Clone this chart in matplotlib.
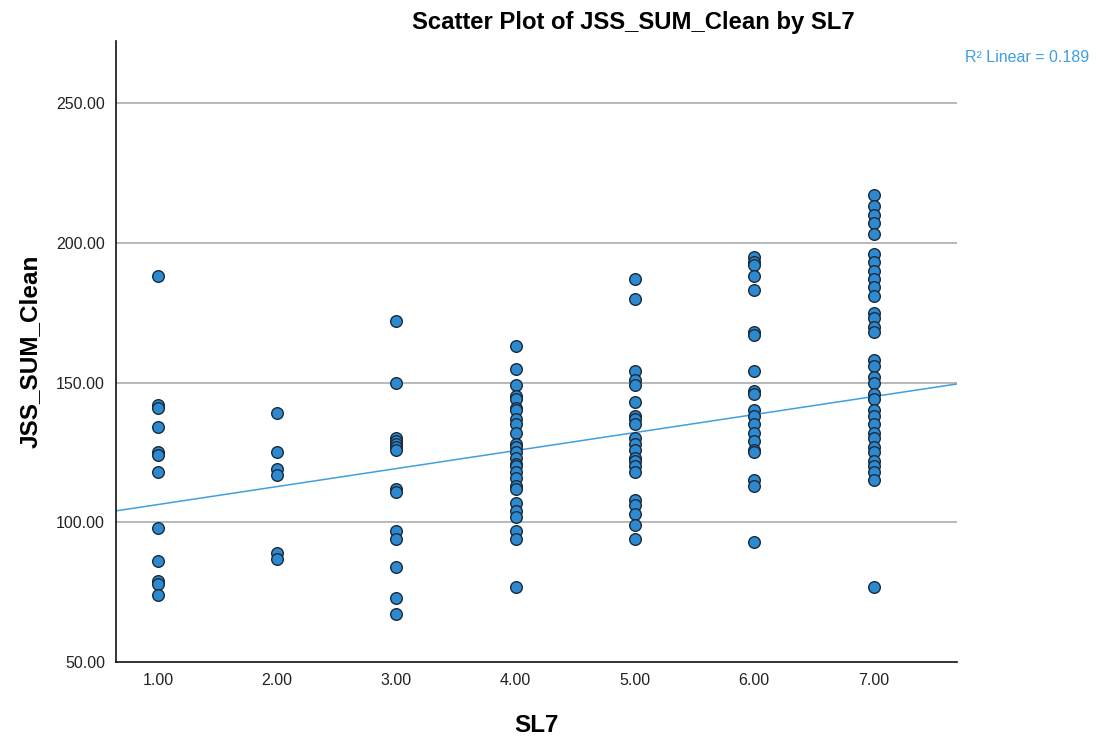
import numpy as np
import matplotlib
matplotlib.use("Agg")
import matplotlib.pyplot as plt

plt.rcParams['font.family'] = ['Liberation Sans', 'DejaVu Sans']

# Data: JSS_SUM_Clean values for each SL7 level
sl7_1 = [188, 142, 141, 134, 125, 124, 118, 98, 86, 79, 78, 74]
sl7_2 = [139, 125, 119, 117, 89, 87]
sl7_3 = [172, 150, 130, 129, 128, 127, 126, 112, 111, 97, 94, 84, 73, 67]
sl7_4 = [163, 155, 149, 145, 144, 141, 140, 137, 135, 132, 128, 127, 125, 123,
         121, 120, 118, 116, 113, 112, 107, 104, 102, 97, 94, 77]
sl7_5 = [187, 180, 154, 151, 149, 143, 138, 137, 135, 130, 128, 126, 123, 122,
         120, 118, 108, 106, 103, 99, 94]
sl7_6 = [195, 193, 192, 188, 183, 168, 167, 154, 147, 146, 140, 138, 135, 132,
         129, 126, 125, 115, 113, 93]
sl7_7 = [217, 213, 210, 207, 203, 196, 193, 190, 187, 184, 181, 175, 173, 170,
         168, 158, 156, 152, 150, 146, 144, 140, 138, 135, 132, 130, 127, 125,
         122, 120, 118, 115, 77]

groups = [sl7_1, sl7_2, sl7_3, sl7_4, sl7_5, sl7_6, sl7_7]
levels = [1, 2, 3, 4, 5, 6, 7]
xticks = [1, 2, 3, 4, 5, 6, 7]
yticks = [50, 100, 150, 200, 250]
r2_label = "R\u00b2 Linear = 0.189"
# Fit line as drawn in the chart (full data set, many overlapping points)
fit_intercept = 99.9
fit_slope = 6.44

x = np.concatenate([[lv] * len(g) for lv, g in zip(levels, groups)]).astype(float)
y = np.concatenate(groups).astype(float)

fig = plt.figure(figsize=(10.96, 7.38), dpi=100)
ax = fig.add_axes([116/1096, 1 - 662/738, (957 - 116)/1096, (662 - 41)/738])

xlim = (0.648, 7.70)
ylim = (50, 272.2)
ax.set_xlim(*xlim)
ax.set_ylim(*ylim)

for yt in yticks[1:]:
    ax.axhline(yt, color='#a6a6a6', lw=1.1, zorder=0)

xs = np.array(xlim)
ax.plot(xs, fit_intercept + fit_slope * xs, color='#3f9fe0', lw=1.1, zorder=2)

ax.scatter(x, y, s=70, facecolor='#2e8ad0', edgecolor='#1a2a3a', linewidth=1.0, zorder=3)

ax.set_xticks(xticks)
ax.set_xticklabels([f"{v:.2f}" for v in xticks])
ax.set_yticks(yticks)
ax.set_yticklabels([f"{v:.2f}" for v in yticks])
ax.tick_params(length=0, labelsize=11.5, colors='#222222', pad=8)

for s in ['top', 'right']:
    ax.spines[s].set_visible(False)
for s in ['left', 'bottom']:
    ax.spines[s].set_color('#111111')
    ax.spines[s].set_linewidth(1.2)

ax.set_xlabel("SL7", fontsize=17.5, fontweight='bold', labelpad=19)
ax.set_ylabel("JSS_SUM_Clean", fontsize=17.5, fontweight='bold', labelpad=10)

fig.text(633/1096, 1 - 22/738, "Scatter Plot of JSS_SUM_Clean by SL7",
         ha='center', va='center', fontsize=17.2, fontweight='bold')
fig.text(1089/1096, 1 - 58/738, r2_label, ha='right', va='center',
         fontsize=11.5, color='#3f9fe0')

fig.savefig("out.png", dpi=100)
